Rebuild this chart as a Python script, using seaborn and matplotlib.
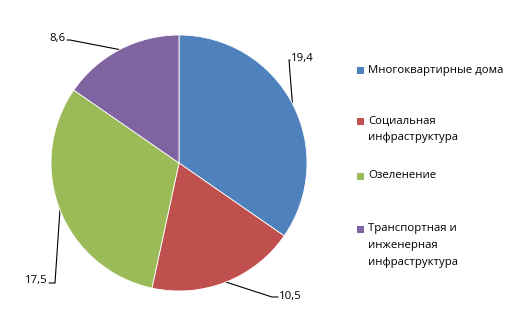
import numpy as np
import matplotlib
matplotlib.use("Agg")
import matplotlib.pyplot as plt
from matplotlib.patches import Rectangle
import seaborn as sns

categories = ["Многоквартирные дома", "Социальная\nинфраструктура", "Озеленение",
              "Транспортная и\nинженерная\nинфраструктура"]
values = [19.4, 10.5, 17.5, 8.6]
colors = ["#4F81BD", "#C0504D", "#9BBB59", "#8064A2"]

sns.set_theme(style="white")
plt.rcParams['font.family'] = ['Open Sans', 'DejaVu Sans']

W, H = 527, 326
fig = plt.figure(figsize=(W / 100, H / 100), dpi=100)
ax = fig.add_axes([0, 0, 1, 1])
ax.set_xlim(0, W)
ax.set_ylim(H, 0)
ax.axis("off")

# pie in its own axes (so angles follow normal orientation)
cx, cy, r = 179, 163, 128
pax = fig.add_axes([0, 0, 1, 1])
wedges, _ = pax.pie(values, colors=colors, startangle=90, counterclock=False,
                    center=(cx, H - cy), radius=r,
                    wedgeprops=dict(edgecolor="white", linewidth=0.6))
pax.set_xlim(0, W)
pax.set_ylim(0, H)
pax.set_aspect("auto")
pax.axis("off")

FS = 8.2
# leader lines: (elbow point, text anchor point, ha) in pixel coords (layout)
label_layout = [((289, 60), (291, 58), "left"),
                ((272, 297), (279, 296), "left"),
                ((55, 283), (48, 281), "right"),
                ((70, 40), (66, 38), "right")]
for w, v, (elbow, tpos, ha) in zip(wedges, values, label_layout):
    mid = np.deg2rad((w.theta1 + w.theta2) / 2)
    ex = cx + r * np.cos(mid)
    ey = cy - r * np.sin(mid)
    end_x = tpos[0] - 1 if ha == "left" else tpos[0] + 1
    ax.plot([ex, elbow[0], end_x], [ey, elbow[1], elbow[1]], color="black", lw=0.8)
    ax.text(tpos[0], tpos[1], f"{v:.1f}".replace(".", ","), ha=ha, va="center",
            fontsize=FS, color="#000000")

# legend
legend_y = [70, 121, 176, 229]
line_h = 16.8
for cat, col, y in zip(categories, colors, legend_y):
    ax.add_patch(Rectangle((357, y - 3.5), 7, 7, facecolor=col, edgecolor="none"))
    for i, line in enumerate(cat.split("\n")):
        ax.text(368, y + i * line_h, line, ha="left", va="center", fontsize=FS,
                color="#000000")

fig.savefig("out.png", dpi=100)
